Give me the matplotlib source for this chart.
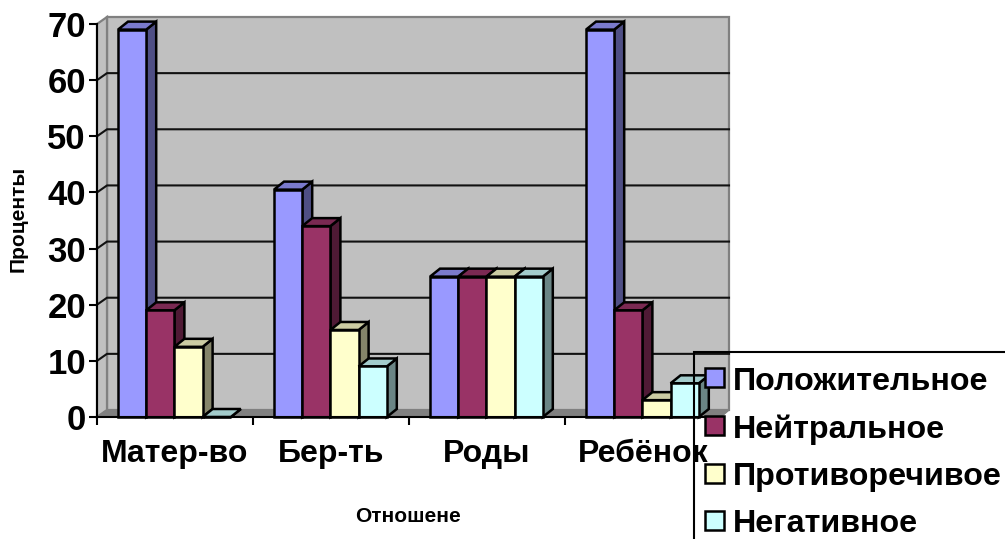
import numpy as np
import matplotlib
matplotlib.use("Agg")
import matplotlib.pyplot as plt
from matplotlib.patches import Polygon, Rectangle

plt.rcParams['font.family'] = ['Liberation Sans', 'DejaVu Sans']
plt.rcParams['font.weight'] = 'bold'

categories = ["Матер-во", "Бер-ть", "Роды", "Ребёнок"]
series_names = ["Положительное", "Нейтральное", "Противоречивое", "Негативное"]
pos_vals = [69, 40.5, 25, 69]
neu_vals = [19, 34, 25, 19]
mix_vals = [12.5, 15.5, 25, 3]
neg_vals = [0, 9, 25, 6]
yticks = [0, 10, 20, 30, 40, 50, 60, 70]
y_title = "Проценты"
x_title = "Отношене"

front = ["#9999FF", "#993366", "#FFFFCC", "#CCFFFF"]
side = ["#4F4F85", "#4F1A35", "#85856A", "#6A8585"]
top = ["#7A7ACC", "#7A2952", "#CCCCA3", "#A3CCCC"]

W, H = 1005, 539
fig = plt.figure(figsize=(W / 100, H / 100), dpi=100)
ax = fig.add_axes([97 / W, (H - 417) / H, 624 / W, 393 / H])
ax.set_xlim(0, 4)
ax.set_ylim(0, 70)

# pixel -> data sizes for the fake 3d depth
px = 4 / 624
py = 70 / 393
wx, wy = 10 * px, 7 * py
wr = 4 + 8 * px  # right end of the back wall
bx, by = 10 * px, 8 * py

# walls + floor
ax.add_patch(Polygon([(wx, wy), (wr, wy), (wr, 70 + wy), (wx, 70 + wy)], fc="#C0C0C0",
                     ec="#808080", lw=1.6, clip_on=False, zorder=1))
ax.add_patch(Polygon([(0, 0), (wx, wy), (wx, 70 + wy), (0, 70)], fc="#C0C0C0",
                     ec="#808080", lw=1.6, clip_on=False, zorder=1))
ax.add_patch(Polygon([(0, 0), (4, 0), (wr, wy), (wx, wy)], fc="#808080",
                     ec="#808080", lw=1, clip_on=False, zorder=1))

for t in yticks[1:-1]:
    ax.plot([0, wx, wr], [t, t + wy, t + wy], color="#111111", lw=1.5, clip_on=False, zorder=2)

# bars, left to right so each one covers the side of the last
all_vals = [pos_vals, neu_vals, mix_vals, neg_vals]
bar_w = 28.2 * px
gap = 21 * px
zz = 3
for i in range(len(categories)):
    for j, vals in enumerate(all_vals):
        v = vals[i]
        x0 = i + gap + j * bar_w
        x1 = x0 + bar_w
        ax.add_patch(Polygon([(x1, 0), (x1 + bx, by), (x1 + bx, v + by), (x1, v)], fc=side[j],
                             ec="black", lw=1.8, clip_on=False, zorder=zz))
        ax.add_patch(Polygon([(x0, v), (x1, v), (x1 + bx, v + by), (x0 + bx, v + by)], fc=top[j],
                             ec="black", lw=1.8, clip_on=False, zorder=zz))
        ax.bar(x0, v, width=bar_w, align="edge", color=front[j], edgecolor="black", lw=1.8,
               clip_on=False, zorder=zz + 0.5)
        zz += 1

for s in ["top", "right"]:
    ax.spines[s].set_visible(False)
for s in ["left", "bottom"]:
    ax.spines[s].set_linewidth(1.5)
    ax.spines[s].set_zorder(100)

ax.set_yticks(yticks)
ax.set_xticks(range(5))
ax.set_xticklabels([])
ax.set_xticks(np.arange(4) + 0.5, minor=True)
ax.set_xticklabels(categories, minor=True, fontsize=23, fontweight="bold")
ax.tick_params(axis="x", which="minor", length=0, pad=16)
ax.tick_params(axis="x", which="major", length=6, width=1.5)
ax.tick_params(axis="y", length=6, width=1.5, labelsize=25, pad=2)
ax.patch.set_visible(False)

fig.text(18 / W, 1 - 219 / H, y_title, rotation=90, ha="center", va="center", fontsize=15, fontweight="bold")
fig.text(408 / W, 1 - 517 / H, x_title, ha="center", va="center", fontsize=15, fontweight="bold")

# legend box runs off the edge of the picture, no fill
fig.add_artist(Rectangle((694 / W, -0.1), 0.5, 0.1 + 1 - 352 / H, transform=fig.transFigure, fc="none",
                         ec="black", lw=1.5, zorder=200))
legend_y = [378, 426, 474, 521]
for name, c, ly in zip(series_names, front, legend_y):
    fig.add_artist(Rectangle((705 / W, 1 - (ly + 9) / H), 19 / W, 19 / H, transform=fig.transFigure,
                             fc=c, ec="black", lw=1.8, zorder=201))
    fig.text(733 / W, 1 - ly / H, name, ha="left", va="center_baseline", fontsize=23.2, fontweight="bold", zorder=202)

fig.savefig("out.png", dpi=100)
